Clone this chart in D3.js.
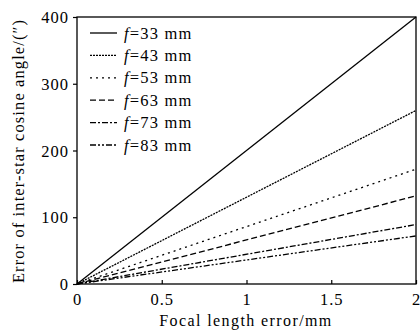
<!DOCTYPE html>
<html><head><meta charset="utf-8">
<script src="https://cdn.jsdelivr.net/npm/d3@7"></script>
<style>
html,body{margin:0;padding:0;background:#fff;}
text{font-family:"Liberation Serif","Times New Roman",serif;fill:#000;}
</style></head>
<body><svg id="c" width="420" height="331"></svg>
<script>
const focalLabels = ["33", "43", "53", "63", "73", "83"];
const focalErrors = [0, 2];
const angleErrors = [
  [0, 400],
  [0, 260],
  [0, 172],
  [0, 132],
  [0, 89],
  [0, 72]
];
const xTicks = [0, 0.5, 1, 1.5, 2];
const yTicks = [0, 100, 200, 300, 400];
const dashes = ["", "2,1", "2,4", "6,3", "6,2,2,2", "6,2,2,2,2,2"];

const svg = d3.select("#c");
const m = {l: 77, r: 416, t: 17, b: 284};
const x = d3.scaleLinear().domain([0, 2]).range([m.l, m.r]);
const y = d3.scaleLinear().domain([0, 400]).range([m.b, m.t]);

svg.append("rect").attr("x", m.l).attr("y", m.t).attr("width", m.r - m.l).attr("height", m.b - m.t)
  .attr("fill", "none").attr("stroke", "#000").attr("stroke-width", 1.3);

const xAxis = svg.append("g").attr("transform", `translate(0,${m.b})`)
  .call(d3.axisBottom(x).tickValues(xTicks).tickFormat(d => d).tickSizeInner(-4).tickSizeOuter(0).tickPadding(8));
const yAxis = svg.append("g").attr("transform", `translate(${m.l},0)`)
  .call(d3.axisLeft(y).tickValues(yTicks).tickSizeInner(4).tickSizeOuter(0).tickPadding(4));
[xAxis, yAxis].forEach(g => {
  g.select(".domain").remove();
  g.selectAll("line").attr("stroke", "#000").attr("stroke-width", 1.2);
  g.selectAll("text").attr("font-size", 16.5).attr("letter-spacing", 1)
    .attr("font-family", "Liberation Serif");
});
yAxis.selectAll("text").attr("dy", "0.34em");
xAxis.selectAll("text").attr("dy", "0.8em");

const line = d3.line().x((d, i) => x(focalErrors[i])).y(d => y(d));
angleErrors.forEach((s, k) => {
  svg.append("path").datum(s).attr("d", line).attr("fill", "none")
    .attr("stroke", "#000").attr("stroke-width", 1.3)
    .attr("stroke-dasharray", dashes[k] || null);
});

const lg = svg.append("g");
focalLabels.forEach((f, k) => {
  const yy = 33 + k * 22.4;
  lg.append("line").attr("x1", 90).attr("x2", 117).attr("y1", yy).attr("y2", yy)
    .attr("stroke", "#000").attr("stroke-width", 1.3).attr("stroke-dasharray", dashes[k] || null);
  const t = lg.append("text").attr("x", 124).attr("y", yy).attr("dy", "0.34em")
    .attr("font-size", 16.5).attr("letter-spacing", 1.2);
  t.append("tspan").attr("font-style", "italic").text("f");
  t.append("tspan").text("=" + f + " mm");
});

svg.append("text").attr("x", 246).attr("y", 326).attr("text-anchor", "middle")
  .attr("font-size", 16).attr("letter-spacing", 1.4).text("Focal length error/mm");
svg.append("text").attr("transform", "translate(24,151) rotate(-90)").attr("text-anchor", "middle")
  .attr("font-size", 16.5).attr("letter-spacing", 1.1).text("Error of inter-star cosine angle/(\u2033)");
</script></body></html>
